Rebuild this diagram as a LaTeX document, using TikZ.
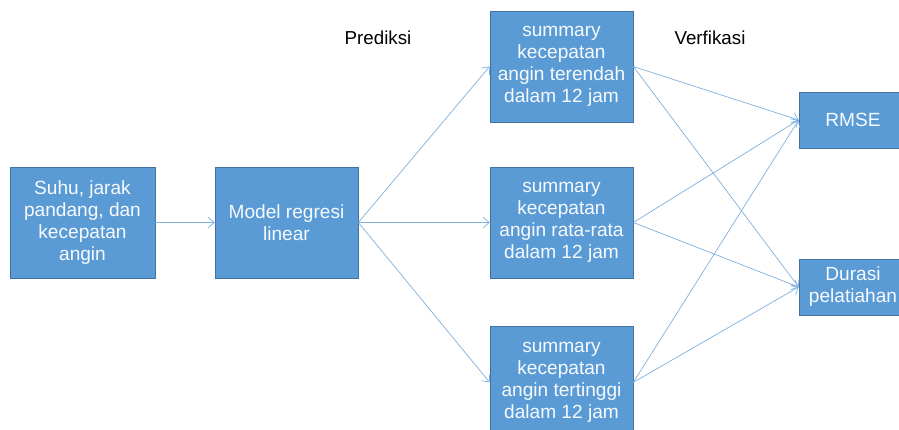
\documentclass[tikz,border=0pt]{standalone}
\usepackage{fontspec}
\setmainfont{Liberation Sans}
\usetikzlibrary{arrows.meta, positioning}
\definecolor{boxfill}{HTML}{5B9BD5}
\definecolor{boxline}{HTML}{41719C}
\definecolor{arrowline}{HTML}{7FB0DE}

\begin{document}
\begin{tikzpicture}[
        >={Straight Barb[length=5pt, width=9pt]},
        box/.style={draw=boxline, line width=0.6pt, fill=boxfill, text=white!95!boxfill,
            align=center, inner sep=0pt, minimum width=4.29cm, minimum height=3.33cm,
            font=\fontsize{16.3pt}{18.8pt}\selectfont},
        smallbox/.style={box, minimum width=3.24cm, minimum height=1.68cm},
        flow/.style={->, arrowline, line width=0.6pt},
        label/.style={font=\fontsize{16pt}{18.8pt}\selectfont}
    ]
        \useasboundingbox (0,0) rectangle (26.97,12.87);

        % input dan model
        \node[box, minimum width=4.35cm] (input) at (2.475,6.195) {Suhu, jarak\\pandang, dan\\kecepatan\\angin};
        \node[box] (model) at (8.595,6.195) {Model regresi\\linear};

        % prediksi
        \node[box] (low)  at (16.845,10.875) {summary\\kecepatan\\angin terendah\\dalam 12 jam};
        \node[box] (avg)  at (16.845,6.195)  {summary\\kecepatan\\angin rata-rata\\dalam 12 jam};
        \node[box] (high) at (16.845,1.4)    {summary\\kecepatan\\angin tertinggi\\dalam 12 jam};

        % verifikasi
        \node[smallbox] (rmse)   at (25.59,9.27) {RMSE};
        \node[smallbox] (durasi) at (25.59,4.26) {Durasi\\pelatiahan};

        \node[label] (prediksi)  at (11.34,11.73) {Prediksi};
        \node[label] (verfikasi) at (21.3,11.73)  {Verfikasi};

        % panah
        \draw[flow] (input.east) -- (model.west);
        \foreach \s in {low, avg, high} {
            \draw[flow] (model.east) -- (\s.west);
            \draw[flow] (\s.east) -- (rmse.west);
            \draw[flow] (\s.east) -- (durasi.west);
        }
    \end{tikzpicture}
\end{document}
